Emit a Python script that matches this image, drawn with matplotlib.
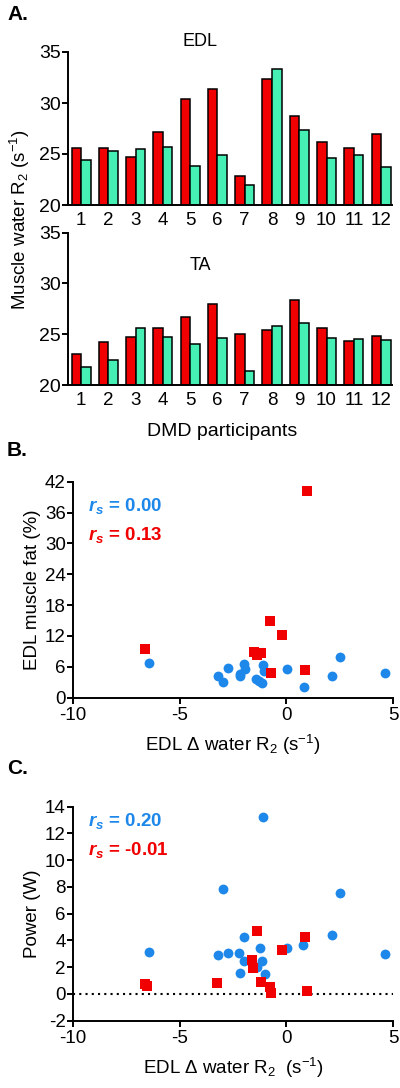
import matplotlib
matplotlib.use("Agg")
import matplotlib.pyplot as plt
import numpy as np

plt.rcParams.update({
    "font.family": ["Liberation Sans", "DejaVu Sans"],
    "font.size": 12,
    "axes.unicode_minus": False,
    "mathtext.fontset": "custom",
    "mathtext.rm": "Liberation Sans",
    "mathtext.it": "Liberation Sans:italic",
    "mathtext.bf": "Liberation Sans:bold",
    "mathtext.bfit": "Liberation Sans:italic:bold",
    "axes.linewidth": 1.4,
    "xtick.major.width": 1.4,
    "ytick.major.width": 1.4,
    "xtick.major.size": 4,
    "ytick.major.size": 4,
})

# ── data ─────────────────────────────────────────────────────────────────────
participants = list(range(1, 13))
edl_red = [25.6, 25.6, 24.7, 27.2, 30.4, 31.4, 22.8, 32.35, 28.7, 26.15, 25.6, 27.0]
edl_green = [24.4, 25.3, 25.5, 25.7, 23.8, 24.9, 22.0, 33.3, 27.35, 24.6, 24.9, 23.75]
ta_red = [23.05, 24.2, 24.75, 25.65, 26.7, 27.95, 25.0, 25.4, 28.4, 25.6, 24.3, 24.85]
ta_green = [21.8, 22.5, 25.6, 24.75, 24.0, 24.65, 21.4, 25.8, 26.1, 24.6, 24.5, 24.4]

# panel B / C : x = EDL delta water R2
blue_dx = [-6.41, -3.19, -2.99, -2.72, -2.18, -2.15, -1.98, -1.95, -1.43, -1.28,
           -1.12, -1.09, -1.06, 0.03, 0.81, 2.15, 2.52, 4.63]
blue_fat = [6.7, 4.3, 3.1, 5.7, 4.7, 4.2, 6.55, 5.5, 3.6, 3.3,
            2.9, 6.4, 5.25, 5.6, 2.15, 4.3, 8.0, 4.9]
red_fat_dx = [-6.64, -1.53, -1.40, -1.17, -0.78, -0.70, -0.19, 0.85, 0.96]
red_fat = [9.5, 8.95, 8.4, 8.6, 14.9, 4.9, 12.2, 5.4, 40.2]

blue_pow_dx = [-6.41, -3.19, -2.99, -2.72, -2.21, -2.18, -1.98, -1.98, -1.40, -1.25,
               -1.14, -1.09, -1.01, 0.03, 0.78, 2.15, 2.52, 4.63]
blue_pow = [3.17, 2.9, 7.85, 3.04, 3.09, 1.55, 4.24, 2.47, 2.0, 3.47,
            2.5, 13.26, 1.5, 3.42, 3.64, 4.44, 7.53, 2.97]
red_pow_dx = [-6.64, -6.54, -3.24, -1.59, -1.56, -1.40, -1.20, -0.78, -0.70, -0.19, 0.85, 0.96]
red_pow = [0.75, 0.6, 0.85, 2.54, 1.92, 4.71, 0.92, 0.55, 0.05, 3.29, 4.29, 0.22]

RED = "#F00000"
GREEN = "#46F0B4"
BLUE = "#1E88EA"

W, H = 400, 1088
fig = plt.figure(figsize=(W / 100, H / 100), dpi=100)


def box(x0, y_top, x1, y_bot):
    return [x0 / W, 1 - y_bot / H, (x1 - x0) / W, (y_bot - y_top) / H]


def bar_panel(ax, red, green, title, title_y):
    x = np.array(participants)
    w = 0.35
    ax.bar(x - w / 2, red, width=w, color=RED, edgecolor="black", linewidth=1.1)
    ax.bar(x + w / 2, green, width=w, color=GREEN, edgecolor="black", linewidth=1.1)
    ax.set_ylim(20, 35)
    ax.set_xlim(0.52, 12.4)
    ax.set_yticks([20, 25, 30, 35])
    ax.set_xticks(x)
    ax.set_xticklabels([str(p) for p in participants])
    ax.tick_params(axis="x", length=0, labelsize=13.5, pad=5)
    ax.tick_params(axis="y", labelsize=14, pad=1)
    for s in ("top", "right"):
        ax.spines[s].set_visible(False)
    fig.text(0.5, 1 - title_y / H, title, ha="center", va="center", fontsize=13)


ax_edl = fig.add_axes(box(68, 52, 392, 205))
bar_panel(ax_edl, edl_red, edl_green, "EDL", 42)
ax_ta = fig.add_axes(box(68, 232.7, 392, 385))
bar_panel(ax_ta, ta_red, ta_green, "TA", 266)

fig.text(7 / W, 1 - 15 / H, "A.", fontsize=15, fontweight="bold", va="center")
fig.text(20 / W, 1 - 220 / H, "Muscle water R$_2$ (s$^{-1}$)", rotation=90,
         ha="center", va="center", fontsize=13.5)
fig.text(222 / W, 1 - 432 / H, "DMD participants", ha="center", va="center", fontsize=14)


def scatter_panel(ax, bx, by, rx, ry, ylim, yticks, ylabel, rs_blue, rs_red, rs_y, xlabel):
    ax.scatter(bx, by, s=50, marker="o", color=BLUE, linewidths=0, zorder=3)
    ax.scatter(rx, ry, s=42, marker="s", color=RED, linewidths=0, zorder=4)
    ax.set_xlim(-10, 5)
    ax.set_ylim(*ylim)
    ax.set_xticks([-10, -5, 0, 5])
    ax.set_yticks(yticks)
    ax.tick_params(labelsize=13.5, pad=1)
    ax.tick_params(axis="x", pad=3)
    for s in ("top", "right"):
        ax.spines[s].set_visible(False)
    ax.set_ylabel(ylabel, fontsize=13.5, labelpad=3)
    ax.set_xlabel(xlabel, fontsize=13.5, labelpad=6)
    fig.text(88 / W, 1 - rs_y[0] / H, r"$\mathbfit{r}_\mathbfit{s}$ = " + rs_blue,
             color=BLUE, fontsize=13.5, fontweight="bold", va="center")
    fig.text(88 / W, 1 - rs_y[1] / H, r"$\mathbfit{r}_\mathbfit{s}$ = " + rs_red,
             color=RED, fontsize=13.5, fontweight="bold", va="center")


ax_b = fig.add_axes(box(72.7, 481.7, 393.3, 697.7))
scatter_panel(ax_b, blue_dx, blue_fat, red_fat_dx, red_fat, (0, 42),
              [0, 6, 12, 18, 24, 30, 36, 42], "EDL muscle fat (%)",
              "0.00", "0.13", (506, 535), "EDL Δ water R$_2$ (s$^{-1}$)")
fig.text(7 / W, 1 - 450 / H, "B.", fontsize=15, fontweight="bold", va="center")

ax_c = fig.add_axes(box(72.7, 806.7, 393.3, 1020.7))
ax_c.axhline(0, color="black", linestyle=(0, (1, 2)), linewidth=1.5, zorder=1)
scatter_panel(ax_c, blue_pow_dx, blue_pow, red_pow_dx, red_pow, (-2, 14),
              [-2, 0, 2, 4, 6, 8, 10, 12, 14], "Power (W)",
              "0.20", "-0.01", (821, 850), "EDL Δ water R$_2$  (s$^{-1}$)")
fig.text(7 / W, 1 - 768 / H, "C.", fontsize=15, fontweight="bold", va="center")

fig.savefig("out.png", dpi=100)
